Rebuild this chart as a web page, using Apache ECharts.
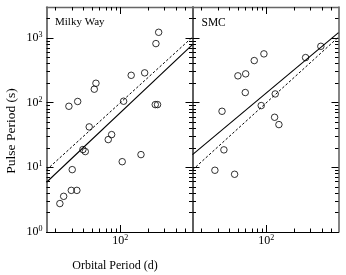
<!DOCTYPE html>
<html><head><meta charset="utf-8">
<script src="https://cdn.jsdelivr.net/npm/echarts@6/dist/echarts.min.js"></script>
<style>html,body{margin:0;padding:0;background:#fff}#c{width:346px;height:275px}</style>
</head><body><div id="c"></div>
<script>
// ---- data ----
const mwOrbital = [259, 242, 183, 131, 54.6, 52.4, 34.7, 27.9, 108.5, 238, 252, 46.2, 80.6, 74.1, 39.5, 41.9, 167, 104.8, 30.3, 29.6, 34.0, 24.5, 22.3];
const mwPulse   = [1220, 816, 288, 264, 199, 161, 104, 87.7, 105, 93, 93, 42.1, 32, 26.8, 18.8, 17.5, 15.7, 12.2, 9.2, 4.4, 4.4, 3.56, 2.75];
const smcOrbital = [387, 265, 94.2, 74.1, 59.9, 49.4, 59.3, 124.7, 88.1, 33.3, 122.8, 136.7, 34.9, 27.9, 45.5];
const smcPulse   = [741, 496, 566, 446, 278, 259, 143, 136, 89.9, 73.4, 59.3, 45.7, 18.6, 9.0, 7.8];
const fitOrbital = [16, 600];
const mwFitPulse = [5.87, 788];
const smcFitPulse = [15.7, 1208];
const combinedFitPulse = [9.1, 1030];
const xRange = [16, 600];
const yRange = [1, 3000];
const xMajorTicks = [100];
const xMinorTicks = [20, 30, 40, 50, 60, 70, 80, 90, 200, 300, 400, 500];
const yMajorTicks = [1, 10, 100, 1000];
const yMinorTicks = [2, 3, 4, 5, 6, 7, 8, 9, 20, 30, 40, 50, 60, 70, 80, 90, 200, 300, 400, 500, 600, 700, 800, 900, 2000];
const panelNames = ['Milky Way', 'SMC'];
const xTitle = 'Orbital Period (d)';
const yTitle = 'Pulse Period (s)';

// ---- chart ----
const serif = 'Liberation Serif';
const rich = {
  b: {fontSize: 12, fontFamily: serif, color: '#000', lineHeight: 14},
  s: {fontSize: 8, fontFamily: serif, color: '#000', verticalAlign: 'top', lineHeight: 8}
};
function sup(v) { return '{b|10}{s|' + Math.round(Math.log10(v)) + '}'; }
function pairs(xs, ys) { return xs.map((x, i) => [x, ys[i]]); }

const grids = [
  {left: 46.5, top: 7, width: 146, height: 225},
  {left: 192.5, top: 7, width: 146, height: 225}
];
const lineCol = {bottom: '#000', top: '#666', left: '#555', right: '#666'};
const lineW = {bottom: 1, top: 1.3, left: 1.6, right: 1.6};

function axis(kind, g, position, major, showLabel) {
  const isX = kind === 'x';
  return {
    type: 'log', logBase: 10, gridIndex: g, position: position,
    min: isX ? xRange[0] : yRange[0], max: isX ? xRange[1] : yRange[1],
    axisLine: {show: major, onZero: false, lineStyle: {color: lineCol[position], width: lineW[position]}},
    axisTick: {show: true, inside: true, length: major ? 7 : 3.5,
      customValues: major ? (isX ? xMajorTicks : yMajorTicks) : (isX ? xMinorTicks : yMinorTicks),
      lineStyle: {color: '#000', width: 1}},
    axisLabel: {show: showLabel, customValues: isX ? xMajorTicks : yMajorTicks, formatter: sup, rich: rich,
      margin: isX ? 2 : 4},
    splitLine: {show: false}, minorTick: {show: false}, minorSplitLine: {show: false}
  };
}
const xAxis = [], yAxis = [];
[0, 1].forEach(g => {
  xAxis.push(axis('x', g, 'bottom', true, true));
  xAxis.push(axis('x', g, 'bottom', false, false));
  xAxis.push(axis('x', g, 'top', true, false));
  xAxis.push(axis('x', g, 'top', false, false));
  yAxis.push(axis('y', g, 'left', true, g === 0));
  yAxis.push(axis('y', g, 'left', false, false));
  yAxis.push(axis('y', g, 'right', true, false));
  yAxis.push(axis('y', g, 'right', false, false));
});

const scatterStyle = {color: 'rgba(0,0,0,0)', borderColor: '#000', borderWidth: 1};
const series = [
  {type: 'scatter', xAxisIndex: 0, yAxisIndex: 0, symbol: 'circle', symbolSize: 6.5, itemStyle: scatterStyle, data: pairs(mwOrbital, mwPulse), silent: true},
  {type: 'line', xAxisIndex: 0, yAxisIndex: 0, symbol: 'none', lineStyle: {color: '#000', width: 1.1}, data: pairs(fitOrbital, mwFitPulse), silent: true},
  {type: 'line', xAxisIndex: 0, yAxisIndex: 0, symbol: 'none', lineStyle: {color: '#000', width: 1, type: [2.5, 2]}, data: pairs(fitOrbital, combinedFitPulse), silent: true},
  {type: 'scatter', xAxisIndex: 4, yAxisIndex: 4, symbol: 'circle', symbolSize: 6.5, itemStyle: scatterStyle, data: pairs(smcOrbital, smcPulse), silent: true},
  {type: 'line', xAxisIndex: 4, yAxisIndex: 4, symbol: 'none', lineStyle: {color: '#000', width: 1.1}, data: pairs(fitOrbital, smcFitPulse), silent: true},
  {type: 'line', xAxisIndex: 4, yAxisIndex: 4, symbol: 'none', lineStyle: {color: '#000', width: 1, type: [2.5, 2]}, data: pairs(fitOrbital, combinedFitPulse), silent: true}
];

const chart = echarts.init(document.getElementById('c'), null, {renderer: 'canvas'});
chart.setOption({
  animation: false,
  backgroundColor: '#fff',
  grid: grids,
  xAxis: xAxis,
  yAxis: yAxis,
  series: series,
  graphic: [
    {type: 'text', left: 55, top: 17, style: {text: panelNames[0], font: '11px "Liberation Serif"', fill: '#000'}},
    {type: 'text', left: 201.5, top: 17, style: {text: panelNames[1], font: '11.5px "Liberation Serif"', fill: '#000'}},
    {type: 'text', x: 115, y: 266, style: {text: xTitle, font: '12px "Liberation Serif"', fill: '#000', align: 'center', verticalAlign: 'middle'}},
    {type: 'text', x: 11.5, y: 131, rotation: Math.PI / 2, style: {text: yTitle, font: '13.5px "Liberation Serif"', fill: '#000', align: 'center', verticalAlign: 'middle'}}
  ]
});
</script></body></html>
